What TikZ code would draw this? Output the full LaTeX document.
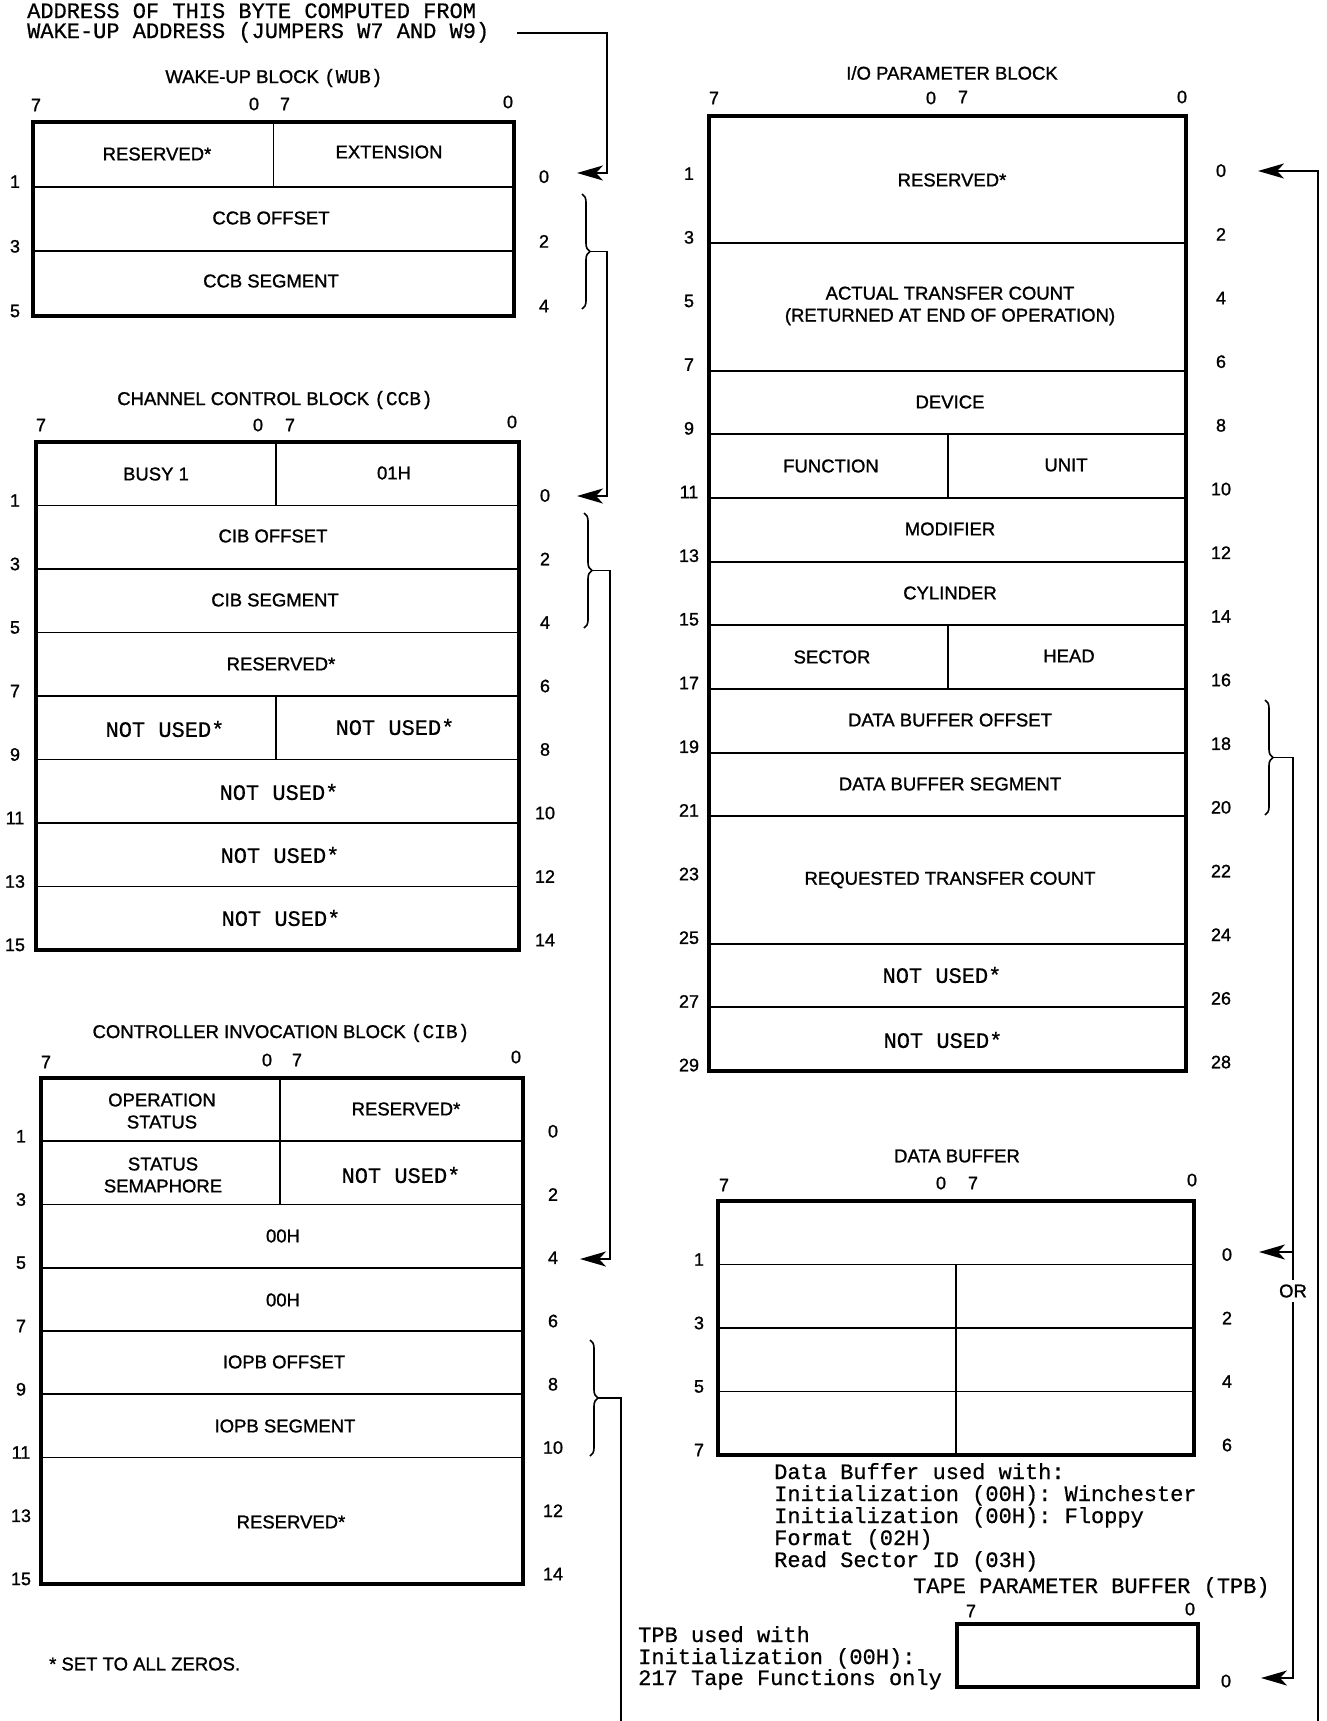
\documentclass[tikz,border=0pt]{standalone}
\usepackage{fontspec}
\setmainfont{Liberation Sans}
\newfontfamily\heavysans{Liberation Sans}[FakeBold=1.2]
\newfontfamily\ttmono{Liberation Mono}[FakeBold=0.6]
\usetikzlibrary{arrows.meta,decorations.pathreplacing}
\begin{document}
\begin{tikzpicture}[x=1pt,y=-1pt,
  txt/.style={font=\heavysans\fontsize{18.5}{22}\selectfont, inner sep=0pt},
  tt/.style={font=\ttmono\fontsize{22}{22}\selectfont, inner sep=0pt},
  num/.style={font=\heavysans\fontsize{18}{20}\selectfont, inner sep=0pt},
  blockframe/.style={line width=3.2pt},
  rowline/.style={line width=1.8pt},
  conn/.style={line width=1.8pt},
  arr/.style={conn,-{Stealth[length=26pt,width=15pt,inset=7pt]}},
  brc/.style={line width=1.6pt,decorate,decoration={brace,amplitude=8pt}},
]
\fill[white] (0,0) rectangle (1327,1721);
\useasboundingbox (0,0) rectangle (1327,1721);

% ---------- top note ----------
\node[tt,anchor=base west] (note1) at (27,18) {ADDRESS OF THIS BYTE COMPUTED FROM};
\node[tt,anchor=base west] (note2) at (27,38) {WAKE-UP ADDRESS (JUMPERS W7 AND W9)};
\coordinate (noteout) at (517,33);
\coordinate (wubin) at (577,173);
\draw[arr] (noteout) -- (607,33) -- (607,173) -- (wubin);

% ---------- WUB ----------
\node[txt] (wubT) at (274,78) {WAKE-UP BLOCK {\ttmono\fontsize{19.5}{22}\selectfont(WUB)}};
\node[num] (wubb1) at (36,105) {7};
\node[num] (wubb2) at (254,104) {0};
\node[num] (wubb3) at (285,104) {7};
\node[num] (wubb4) at (508,102) {0};
\draw[blockframe] (33,122) rectangle (514,316);
\draw[rowline] (33,186.7) -- (514,186.7) (33,251.3) -- (514,251.3) (273.5,122) -- (273.5,186.7);
\node[txt] (wubc1) at (157,154) {RESERVED*};
\node[txt] (wubc2) at (389,152) {EXTENSION};
\node[txt] (wubc3) at (271,218) {CCB OFFSET};
\node[txt] (wubc4) at (271,281) {CCB SEGMENT};
\foreach \k [evaluate=\k as \o using int(2*\k-1), evaluate=\k as \e using int(2*\k-2)] in {1,2,3} {
  \node[num] (wubL\k) at (15,122+\k*64.67-5) {\o};
  \node[num] (wubR\k) at (544,122+\k*64.67-10) {\e};
}
\draw[brc] (582,194) -- (582,309);
\coordinate (wubtip) at (590,251.5);
\coordinate (ccbin) at (577,496);
\draw[arr] (wubtip) -- (607,251.5) -- (607,496) -- (ccbin);

% ---------- CCB ----------
\node[txt] (ccbT) at (275,400) {CHANNEL CONTROL BLOCK {\ttmono\fontsize{19.5}{22}\selectfont(CCB)}};
\node[num] (ccbb1) at (41,425) {7};
\node[num] (ccbb2) at (258,425) {0};
\node[num] (ccbb3) at (290,425) {7};
\node[num] (ccbb4) at (512,422) {0};
\draw[blockframe] (36,442) rectangle (519,950);
\foreach \k in {1,...,7} { \draw[rowline] (36,442+\k*63.5) -- (519,442+\k*63.5); }
\draw[rowline] (276,442) -- (276,505.5) (276,696) -- (276,759.5);
\node[txt] (ccbc1) at (156,474) {BUSY 1};
\node[txt] (ccbc2) at (394,473) {01H};
\node[txt] (ccbc3) at (273,536) {CIB OFFSET};
\node[txt] (ccbc4) at (275,600) {CIB SEGMENT};
\node[txt] (ccbc5) at (281,664) {RESERVED*};
\node[tt]  (ccbc6) at (165,729) {NOT USED*};
\node[tt]  (ccbc7) at (395,727) {NOT USED*};
\node[tt]  (ccbc8) at (279,792) {NOT USED*};
\node[tt]  (ccbc9) at (280,855) {NOT USED*};
\node[tt]  (ccbc10) at (281,918) {NOT USED*};
\foreach \k [evaluate=\k as \o using int(2*\k-1), evaluate=\k as \e using int(2*\k-2)] in {1,...,8} {
  \node[num] (ccbL\k) at (15,442+\k*63.5-5) {\o};
  \node[num] (ccbR\k) at (545,442+\k*63.5-10) {\e};
}
\draw[brc] (584,513) -- (584,628);
\coordinate (ccbtip) at (592,570.5);
\coordinate (cibin) at (580,1259);
\draw[arr] (ccbtip) -- (610,570.5) -- (610,1259) -- (cibin);

% ---------- CIB ----------
\node[txt] (cibT) at (281,1033) {CONTROLLER INVOCATION BLOCK {\ttmono\fontsize{19.5}{22}\selectfont(CIB)}};
\node[num] (cibb1) at (46,1062) {7};
\node[num] (cibb2) at (267,1060) {0};
\node[num] (cibb3) at (297,1060) {7};
\node[num] (cibb4) at (516,1057) {0};
\draw[blockframe] (41,1078) rectangle (523,1584);
\foreach \k in {1,...,6} { \draw[rowline] (41,1078+\k*63.25) -- (523,1078+\k*63.25); }
\draw[rowline] (280,1078) -- (280,1204.5);
\node[txt,align=center] (cibc1) at (162,1111) {OPERATION\\STATUS};
\node[txt] (cibc2) at (406,1109) {RESERVED*};
\node[txt,align=center] (cibc3) at (163,1175) {STATUS\\SEMAPHORE};
\node[tt]  (cibc4) at (401,1175) {NOT USED*};
\node[txt] (cibc5) at (283,1236) {00H};
\node[txt] (cibc6) at (283,1300) {00H};
\node[txt] (cibc7) at (284,1362) {IOPB OFFSET};
\node[txt] (cibc8) at (285,1426) {IOPB SEGMENT};
\node[txt] (cibc9) at (291,1522) {RESERVED*};
\foreach \k [evaluate=\k as \o using int(2*\k-1), evaluate=\k as \e using int(2*\k-2)] in {1,...,8} {
  \node[num] (cibL\k) at (21,1078+\k*63.25-5) {\o};
  \node[num] (cibR\k) at (553,1078+\k*63.25-10) {\e};
}
\draw[brc] (590,1340) -- (590,1456);
\coordinate (cibtip) at (598,1398);
\coordinate (iopbin) at (1258,171);
\draw[arr] (cibtip) -- (621,1398) -- (621,1745) -- (1318,1745) -- (1318,171) -- (iopbin);

\node[txt,anchor=west] (zeros) at (49,1664) {* SET TO ALL ZEROS.};

% ---------- IOPB ----------
\node[txt] (iopbT) at (952,73) {I/O PARAMETER BLOCK};
\node[num] (iopbb1) at (714,98) {7};
\node[num] (iopbb2) at (931,98) {0};
\node[num] (iopbb3) at (963,97) {7};
\node[num] (iopbb4) at (1182,97) {0};
\draw[blockframe] (709,116) rectangle (1186,1071);
\foreach \k in {2,4,5,6,7,8,9,10,11,13,14} { \draw[rowline] (709,116+\k*63.67) -- (1186,116+\k*63.67); }
\draw[rowline] (948,434.3) -- (948,498) (948,625.3) -- (948,689);
\node[txt] (iopbc1) at (952,180) {RESERVED*};
\node[txt,align=center] (iopbc2) at (950,306) {ACTUAL TRANSFER COUNT\\(RETURNED AT END OF OPERATION)};
\node[txt] (iopbc3) at (950,402) {DEVICE};
\node[txt] (iopbc4) at (831,466) {FUNCTION};
\node[txt] (iopbc5) at (1066,465) {UNIT};
\node[txt] (iopbc6) at (950,529) {MODIFIER};
\node[txt] (iopbc7) at (950,593) {CYLINDER};
\node[txt] (iopbc8) at (832,657) {SECTOR};
\node[txt] (iopbc9) at (1069,656) {HEAD};
\node[txt] (iopbc10) at (950,720) {DATA BUFFER OFFSET};
\node[txt] (iopbc11) at (950,784) {DATA BUFFER SEGMENT};
\node[txt] (iopbc12) at (950,880) {REQUESTED TRANSFER COUNT};
\node[tt]  (iopbc13) at (942,975) {NOT USED*};
\node[tt]  (iopbc14) at (943,1040) {NOT USED*};
\foreach \k [evaluate=\k as \o using int(2*\k-1), evaluate=\k as \e using int(2*\k-2)] in {1,...,15} {
  \node[num] (iopbL\k) at (689,116+\k*63.67-6) {\o};
  \node[num] (iopbR\k) at (1221,116+\k*63.67-9) {\e};
}
\draw[brc] (1265,700) -- (1265,815);
\coordinate (iopbtip) at (1273,757.5);
\coordinate (tpbin) at (1261,1678);
\coordinate (orbranch) at (1293,1252);
\coordinate (dbin) at (1259,1252);
\draw[arr] (iopbtip) -- (1293,757.5) -- (1293,1678) -- (tpbin);
\draw[arr] (orbranch) -- (dbin);
\node[txt,fill=white,inner sep=4pt] (orlbl) at (1293,1291) {OR};

% ---------- DATA BUFFER ----------
\node[txt] (dbT) at (957,1156) {DATA BUFFER};
\node[num] (dbb1) at (724,1185) {7};
\node[num] (dbb2) at (941,1183) {0};
\node[num] (dbb3) at (973,1183) {7};
\node[num] (dbb4) at (1192,1180) {0};
\draw[blockframe] (718,1201) rectangle (1194,1455);
\foreach \k in {1,2,3} { \draw[rowline] (718,1201+\k*63.5) -- (1194,1201+\k*63.5); }
\draw[rowline] (956,1264.5) -- (956,1455);
\foreach \k [evaluate=\k as \o using int(2*\k-1), evaluate=\k as \e using int(2*\k-2)] in {1,...,4} {
  \node[num] (dbL\k) at (699,1201+\k*63.5-5) {\o};
  \node[num] (dbR\k) at (1227,1201+\k*63.5-10) {\e};
}
\node[tt,anchor=base west] (dbn1) at (774,1479) {Data Buffer used with:};
\node[tt,anchor=base west] (dbn2) at (774,1501) {Initialization (00H): Winchester};
\node[tt,anchor=base west] (dbn3) at (774,1523) {Initialization (00H): Floppy};
\node[tt,anchor=base west] (dbn4) at (774,1545) {Format (02H)};
\node[tt,anchor=base west] (dbn5) at (774,1567) {Read Sector ID (03H)};

% ---------- TPB ----------
\node[tt,anchor=base west] (tpbT) at (913,1593) {TAPE PARAMETER BUFFER (TPB)};
\node[num] (tpbb1) at (971,1611) {7};
\node[num] (tpbb2) at (1190,1609) {0};
\draw[blockframe] (957,1624) rectangle (1198,1687);
\node[num] (tpbR1) at (1226,1681) {0};
\node[tt,anchor=base west] (tpbn1) at (638,1642) {TPB used with};
\node[tt,anchor=base west] (tpbn2) at (638,1664) {Initialization (00H):};
\node[tt,anchor=base west] (tpbn3) at (638,1685) {217 Tape Functions only};
\end{tikzpicture}
\end{document}
